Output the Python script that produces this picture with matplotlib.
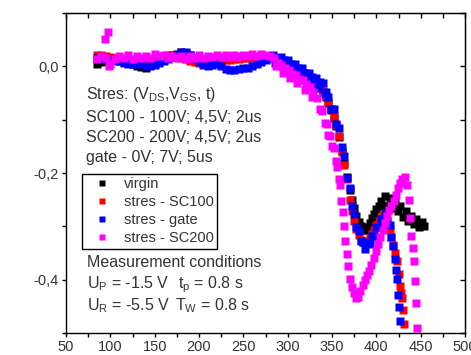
import matplotlib
matplotlib.use("Agg")
from matplotlib import pyplot as plt
from matplotlib.ticker import MultipleLocator, FuncFormatter, NullFormatter

plt.rcParams["font.family"] = ["Liberation Sans", "DejaVu Sans"]
plt.rcParams["mathtext.default"] = "regular"

# shared x grid for the flat part of all curves
x_flat = [85, 90, 95, 100, 105, 110, 115, 120, 125, 130, 135, 140, 145, 150, 155,
          160, 165, 170, 175, 180, 185, 190, 195, 200, 205, 210, 215, 220, 225, 230,
          235, 240, 245, 250, 255, 260, 265, 270, 275, 280]

virgin_flat = [0.004, 0.008, 0.010, 0.012, 0.012, 0.010, 0.008, 0.006, 0.004, 0.001,
               -0.002, -0.003, 0.002, 0.008, 0.012, 0.016, 0.019, 0.021, 0.024, 0.026,
               0.025, 0.021, 0.016, 0.012, 0.009, 0.007, 0.008, 0.010, 0.012, 0.014,
               0.015, 0.016, 0.017, 0.019, 0.020, 0.018, 0.016, 0.017, 0.018, 0.019]
sc100_flat = [0.022, 0.021, 0.019, 0.017, 0.015, 0.014, 0.013, 0.012, 0.012, 0.011,
              0.010, 0.010, 0.011, 0.012, 0.014, 0.017, 0.022, 0.021, 0.019, 0.016,
              0.013, 0.010, 0.008, 0.006, 0.006, 0.007, 0.008, 0.009, 0.010, 0.011,
              0.012, 0.013, 0.014, 0.015, 0.016, 0.016, 0.016, 0.017, 0.017, 0.018]
gate_flat = [0.016, 0.015, 0.014, 0.013, 0.012, 0.010, 0.006, 0.004, 0.005, 0.007,
             0.004, 0.001, 0.000, 0.003, 0.006, 0.010, 0.014, 0.018, 0.022, 0.026,
             0.027, 0.022, 0.015, 0.008, 0.003, 0.001, 0.002, 0.004, 0.000, -0.005,
             -0.007, -0.006, -0.005, -0.004, -0.003, 0.000, 0.004, 0.008, 0.012, 0.015]
sc200_flat = [0.014, 0.020, 0.016, 0.004, 0.013, 0.020, 0.015, 0.021, 0.014, 0.019,
              0.016, 0.020, 0.015, 0.024, 0.020, 0.022, 0.016, 0.020, 0.015, 0.019,
              0.014, 0.020, 0.016, 0.021, 0.015, 0.020, 0.017, 0.022, 0.018, 0.021,
              0.017, 0.022, 0.018, 0.021, 0.019, 0.023, 0.019, 0.024, 0.022, 0.019]

# remaining points (knee, minimum, bump, final drop)
virgin_x = [284, 288, 292, 296, 300, 304, 308, 312, 316, 320, 324, 328, 332, 336, 340,
            343, 346, 349, 352, 355, 358, 361, 364, 367, 370, 372.5, 375, 377.5, 380,
            382.5, 385, 387.5, 390, 392.5, 395, 397.5, 400, 402.5, 405, 407.5, 410,
            412.5, 415, 418, 421, 424, 427, 430, 433, 436, 439, 442, 445, 448, 451, 454]
virgin_y = [0.016, 0.012, 0.008, 0.004, 0.000, -0.004, -0.009, -0.014, -0.012, -0.018,
            -0.022, -0.028, -0.033, -0.040, -0.048, -0.058, -0.068, -0.082, -0.096,
            -0.112, -0.132, -0.158, -0.182, -0.208, -0.232, -0.250, -0.266, -0.280,
            -0.292, -0.300, -0.306, -0.307, -0.302, -0.294, -0.285, -0.276, -0.268,
            -0.261, -0.252, -0.262, -0.243, -0.262, -0.246, -0.266, -0.254, -0.272,
            -0.262, -0.282, -0.272, -0.290, -0.280, -0.296, -0.286, -0.302, -0.292, -0.300]

sc100_x = [284, 288, 292, 296, 300, 304, 308, 312, 316, 320, 324, 328, 332, 336, 340,
           343, 346, 349, 352, 355, 358, 361, 364, 367, 370, 372.5, 375, 377.5, 380,
           382.5, 385, 387.5, 390, 392.5, 395, 397.5, 400, 402.5, 405, 407.5, 410,
           412.5, 415, 417, 419, 421, 423, 425, 426.5, 428, 429.5, 430.5, 431.5]
sc100_y = [0.016, 0.012, 0.009, 0.005, 0.001, -0.004, -0.008, -0.014, -0.010, -0.016,
           -0.020, -0.026, -0.030, -0.038, -0.046, -0.056, -0.066, -0.080, -0.094,
           -0.110, -0.130, -0.160, -0.185, -0.212, -0.250, -0.272, -0.290, -0.305,
           -0.316, -0.325, -0.330, -0.332, -0.328, -0.322, -0.315, -0.306, -0.298,
           -0.290, -0.284, -0.279, -0.282, -0.292, -0.305, -0.320, -0.335, -0.350,
           -0.365, -0.390, -0.412, -0.425, -0.434, -0.456, -0.484]

gate_x = [284, 286, 288, 292, 294, 296, 300, 302, 304, 308, 310, 312, 316, 318, 320,
          324, 326, 328, 332, 334, 336, 340, 342, 343, 346, 349, 352, 355, 358, 361,
          364, 367, 370, 372.5, 375, 377.5, 380, 382.5, 385, 387.5, 390, 392.5, 395,
          397.5, 400, 402.5, 405, 407.5, 410, 412.5, 415, 417, 419, 421, 422.5, 423.5,
          424.5, 425.5, 426.5]
gate_y = [0.022, 0.006, 0.016, 0.018, 0.000, 0.012, 0.012, -0.008, 0.004, 0.004,
          -0.014, -0.004, -0.004, -0.022, -0.012, -0.012, -0.030, -0.020, -0.022,
          -0.040, -0.030, -0.032, -0.052, -0.048, -0.058, -0.080, -0.080, -0.108,
          -0.116, -0.152, -0.168, -0.209, -0.228, -0.262, -0.276, -0.302, -0.308,
          -0.328, -0.329, -0.342, -0.332, -0.334, -0.318, -0.318, -0.302, -0.302,
          -0.286, -0.286, -0.276, -0.290, -0.298, -0.320, -0.336, -0.362, -0.381,
          -0.398, -0.428, -0.452, -0.478]

sc200_x = [94, 97.5, 98, 285, 287, 289, 293, 295, 297, 301, 303, 305, 309, 311, 313,
           317, 319, 321, 325, 327, 329, 333, 336, 339, 342, 344, 346, 348, 350, 352,
           354, 356, 357.5, 359, 360.5, 362, 363.5, 365, 366.5, 368, 370, 372, 374.5,
           377, 379.5, 382, 384.5, 387, 389.5, 392, 394.5, 397, 399.5, 402, 404.5, 407,
           409.5, 412, 414.5, 417, 419.5, 422, 424.5, 427, 429.5, 432, 434.5, 436.5,
           438, 439.5, 441, 442.5, 443.5, 444.5, 445.5]
sc200_y = [0.052, 0.064, 0.000, 0.016, 0.000, 0.006, 0.002, -0.012, -0.004, -0.006,
           -0.022, -0.014, -0.016, -0.032, -0.024, -0.026, -0.044, -0.034, -0.038,
           -0.058, -0.048, -0.060, -0.080, -0.084, -0.106, -0.109, -0.128, -0.131,
           -0.150, -0.154, -0.178, -0.188, -0.212, -0.222, -0.252, -0.273, -0.300,
           -0.327, -0.352, -0.375, -0.398, -0.413, -0.425, -0.434, -0.432, -0.422,
           -0.410, -0.400, -0.392, -0.383, -0.372, -0.360, -0.347, -0.333, -0.320,
           -0.306, -0.293, -0.281, -0.270, -0.262, -0.253, -0.242, -0.229, -0.218,
           -0.211, -0.208, -0.222, -0.250, -0.285, -0.318, -0.340, -0.365, -0.402,
           -0.444, -0.490]

series = [
    ("virgin", "#000000", virgin_flat, virgin_x, virgin_y),
    ("stres - SC100", "#ff0000", sc100_flat, sc100_x, sc100_y),
    ("stres - gate", "#0000ff", gate_flat, gate_x, gate_y),
    ("stres - SC200", "#ff00ff", sc200_flat, sc200_x, sc200_y),
]

txt = "#333333"

fig = plt.figure(figsize=(4.71, 3.55), dpi=100)
ax = fig.add_axes([66 / 471, 1 - 333 / 355, 399 / 471, 320 / 355])

for label, color, yflat, xr, yr in series:
    ax.plot(x_flat + xr, yflat + yr, "s", color=color, ms=5.6, mec="none", label=label)

ax.set_xlim(50, 500)
ax.set_ylim(-0.5, 0.1)
ax.xaxis.set_major_locator(MultipleLocator(50))
ax.xaxis.set_minor_locator(MultipleLocator(25))
ax.yaxis.set_major_locator(MultipleLocator(0.2))
ax.yaxis.set_minor_locator(MultipleLocator(0.1))
ax.yaxis.set_major_formatter(FuncFormatter(lambda v, p: f"{v:.1f}".replace(".", ",").replace("-0,0", "0,0")))
ax.tick_params(which="both", direction="out", length=3, width=1, labelsize=10.5,
               labelcolor=txt, pad=2)
for s in ax.spines.values():
    s.set_linewidth(1.0)

# inward ticks on top and right like the original
top = ax.secondary_xaxis("top")
top.xaxis.set_major_locator(MultipleLocator(50))
top.xaxis.set_minor_locator(MultipleLocator(25))
top.xaxis.set_major_formatter(NullFormatter())
top.tick_params(which="both", direction="in", length=3.5, width=1)
right = ax.secondary_yaxis("right")
right.yaxis.set_major_locator(MultipleLocator(0.2))
right.yaxis.set_minor_locator(MultipleLocator(0.1))
right.yaxis.set_major_formatter(NullFormatter())
right.tick_params(which="both", direction="in", length=3.5, width=1)

fs = 11.5
ax.text(0.05, 0.731, "Stres: (V$_{DS}$,V$_{GS}$, t)", transform=ax.transAxes, fontsize=fs, color=txt)
ax.text(0.05, 0.66, "SC100 - 100V; 4,5V; 2us", transform=ax.transAxes, fontsize=fs, color=txt)
ax.text(0.05, 0.598, "SC200 - 200V; 4,5V; 2us", transform=ax.transAxes, fontsize=fs, color=txt)
ax.text(0.05, 0.535, "gate - 0V; 7V; 5us", transform=ax.transAxes, fontsize=fs, color=txt)
ax.text(0.053, 0.207, "Measurement conditions", transform=ax.transAxes, fontsize=fs, color=txt)
ax.text(0.053, 0.140, "U$_P$ = -1.5 V", transform=ax.transAxes, fontsize=fs, color=txt)
ax.text(0.281, 0.140, "t$_p$ = 0.8 s", transform=ax.transAxes, fontsize=fs, color=txt)
ax.text(0.053, 0.072, "U$_R$ = -5.5 V", transform=ax.transAxes, fontsize=fs, color=txt)
ax.text(0.273, 0.072, "T$_W$ = 0.8 s", transform=ax.transAxes, fontsize=fs, color=txt)

leg = ax.legend(loc="upper left", bbox_to_anchor=(0.040, 0.497), borderaxespad=0,
                fontsize=10.5, markerscale=0.8, handlelength=2.3, handletextpad=0.35,
                borderpad=0.22, labelspacing=0.28, fancybox=False, framealpha=1,
                edgecolor="#000000")
leg.get_frame().set_linewidth(1.0)
for t in leg.get_texts():
    t.set_color(txt)

fig.savefig("out.png", dpi=100)
plt.close(fig)
